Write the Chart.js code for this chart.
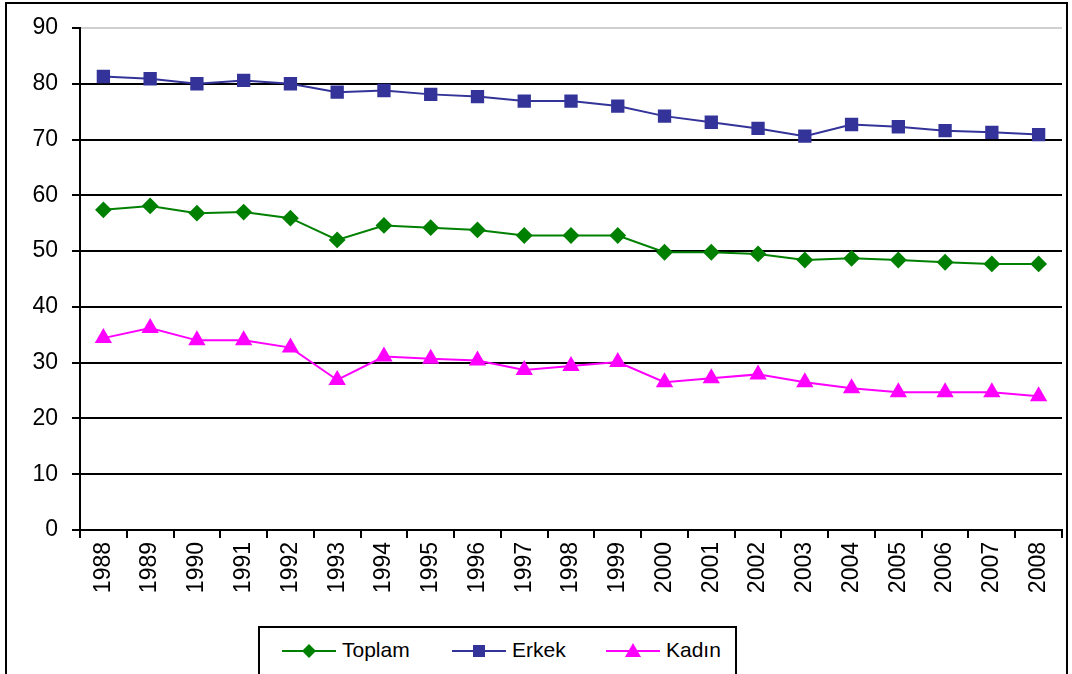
<!DOCTYPE html>
<html>
<head>
<meta charset="utf-8">
<script src="https://cdn.jsdelivr.net/npm/chart.js@4/dist/chart.umd.min.js"></script>
<style>
  html, body { margin: 0; padding: 0; background: #fff; overflow: hidden; }
  #wrap { position: relative; width: 1072px; height: 674px; }
  #frame { position: absolute; left: 5px; top: 2px; width: 1063px; height: 700px; border: 2px solid #000; box-sizing: border-box; }
  #chart { position: absolute; left: 0; top: 0; }
  #legend { position: absolute; left: 258px; top: 626px; width: 479px; height: 70px; border: 2px solid #000; box-sizing: border-box; background: #fff;
            font-family: "Liberation Sans", Arial, sans-serif; font-size: 21px; color: #000; }
  .item { position: absolute; top: 10px; height: 24px; line-height: 24px; }
  .item svg { vertical-align: middle; margin-right: 6px; }
</style>
</head>
<body>
<div id="wrap">
  <div id="frame"></div>
  <canvas id="chart" width="1072" height="674"></canvas>
  <div id="legend"></div>
</div>
<script>
var years = ['1988','1989','1990','1991','1992','1993','1994','1995','1996','1997','1998',
             '1999','2000','2001','2002','2003','2004','2005','2006','2007','2008'];
var toplam = [57.4, 58.1, 56.8, 57.0, 55.9, 52.0, 54.6, 54.2, 53.8, 52.8, 52.8,
              52.8, 49.8, 49.8, 49.5, 48.4, 48.7, 48.4, 48.0, 47.7, 47.7];
var erkek  = [81.3, 80.9, 80.0, 80.6, 80.0, 78.5, 78.8, 78.1, 77.7, 76.9, 76.9,
              76.0, 74.2, 73.1, 72.0, 70.6, 72.7, 72.3, 71.6, 71.3, 70.9];
var kadin  = [34.4, 36.2, 34.0, 34.0, 32.7, 26.9, 31.1, 30.7, 30.4, 28.7, 29.4,
              30.1, 26.5, 27.2, 27.9, 26.5, 25.4, 24.7, 24.7, 24.7, 24.0];
var seriesNames = ['Toplam', 'Erkek', 'Kadın'];

var ctx = document.getElementById('chart').getContext('2d');
var chart = new Chart(ctx, {
    type: 'line',
    data: {
        labels: years,
        datasets: [{
            label: seriesNames[0],
            data: toplam,
            borderColor: '#008000',
            backgroundColor: '#008000',
            borderWidth: 2,
            pointStyle: 'rectRot',
            pointRadius: 7,
            tension: 0
        }, {
            label: seriesNames[1],
            data: erkek,
            borderColor: '#333399',
            backgroundColor: '#333399',
            borderWidth: 2,
            pointStyle: 'rect',
            pointRadius: 8,
            tension: 0
        }, {
            label: seriesNames[2],
            data: kadin,
            borderColor: '#FF00FF',
            backgroundColor: '#FF00FF',
            borderWidth: 2,
            pointStyle: 'triangle',
            pointRadius: 8,
            tension: 0
        }]
    },
    options: {
        responsive: false,
        animation: false,
        layout: { padding: { top: 28, right: 9, left: 0, bottom: 0 } },
        plugins: {
            legend: { display: false },
            tooltip: { enabled: false }
        },
        scales: {
            x: {
                offset: true,
                afterFit: function(scale) { scale.height = 144; },
                grid: {
                    offset: true,
                    drawOnChartArea: false,
                    drawTicks: true,
                    tickLength: 8,
                    color: '#000',
                    lineWidth: 2
                },
                border: { display: true, color: '#000', width: 2 },
                ticks: {
                    minRotation: 90,
                    maxRotation: 90,
                    padding: 4,
                    color: '#000',
                    font: { family: '"Liberation Sans", Arial, sans-serif', size: 23 }
                }
            },
            y: {
                min: 0,
                max: 90,
                afterFit: function(scale) { scale.width = 80; },
                grid: {
                    color: function(c) { return c.tick && c.tick.value === 90 ? '#d0d0d0' : '#000'; },
                    lineWidth: 2,
                    tickLength: 8,
                    tickColor: '#000'
                },
                border: { display: true, color: '#000', width: 2 },
                ticks: {
                    stepSize: 10,
                    padding: 14,
                    color: '#000',
                    font: { family: '"Liberation Sans", Arial, sans-serif', size: 23 }
                }
            }
        }
    }
});

// legend with line + marker, like the spreadsheet one
var legendPos = [22, 192, 346];
var legendEl = document.getElementById('legend');
chart.data.datasets.forEach(function(ds, i) {
    var c = ds.borderColor;
    var marker;
    if (ds.pointStyle === 'rectRot') {
        marker = '<polygon points="27,5 34,12 27,19 20,12" fill="' + c + '"/>';
    } else if (ds.pointStyle === 'rect') {
        marker = '<rect x="21" y="6" width="12" height="12" fill="' + c + '"/>';
    } else {
        marker = '<polygon points="27,4 35,18 19,18" fill="' + c + '"/>';
    }
    var item = document.createElement('div');
    item.className = 'item';
    item.style.left = legendPos[i] + 'px';
    item.innerHTML = '<svg width="54" height="24"><line x1="0" y1="12" x2="54" y2="12" stroke="' + c +
        '" stroke-width="2"/>' + marker + '</svg>' + ds.label;
    legendEl.appendChild(item);
});
</script>
</body>
</html>
